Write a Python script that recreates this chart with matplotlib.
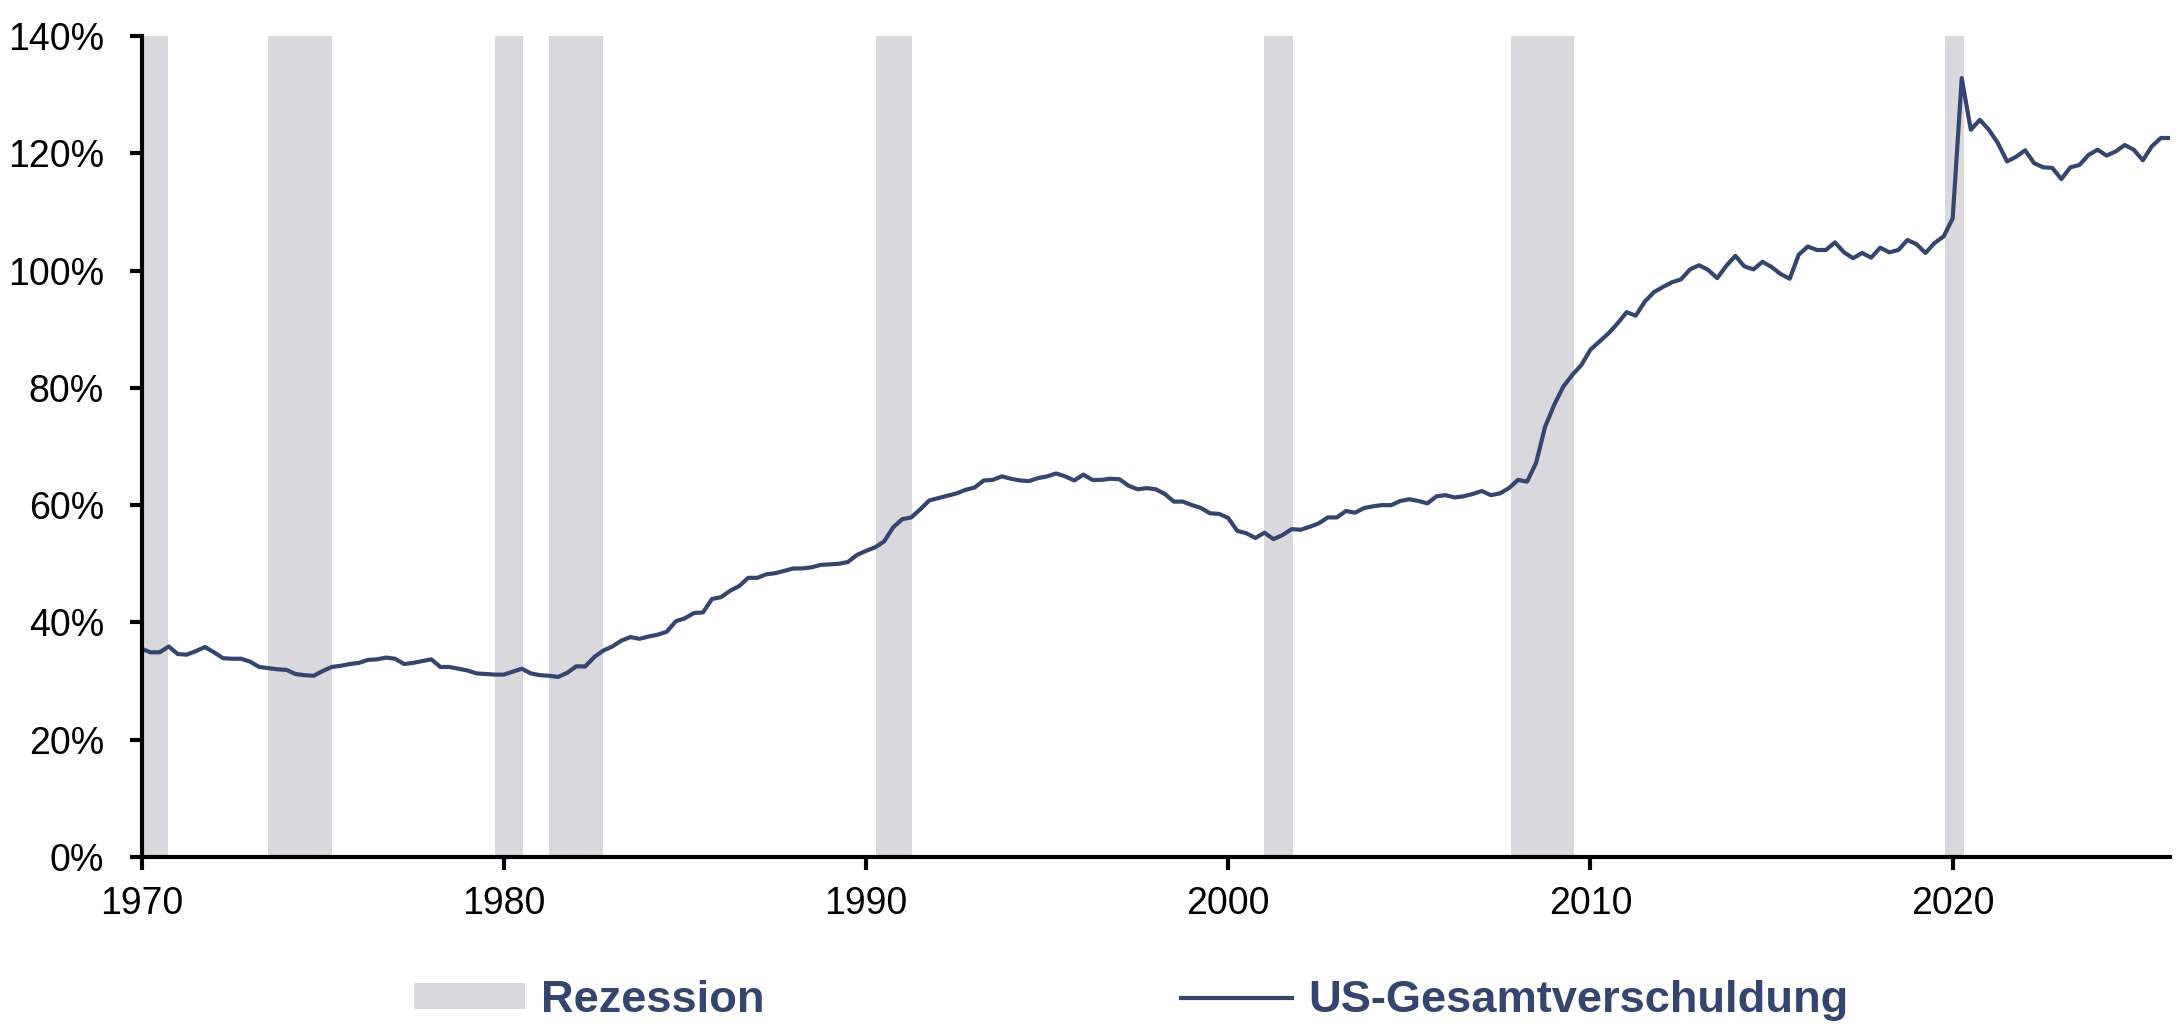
import numpy as np
import pandas as pd
import matplotlib
matplotlib.use("Agg")
from matplotlib import pyplot as plt
from matplotlib.ticker import FuncFormatter
from matplotlib.patches import Patch
from matplotlib.lines import Line2D

plt.rcParams['font.family'] = ['Liberation Sans', 'DejaVu Sans']

# US total debt in % of GDP, quarterly from 1970Q1
debt = [
    35.5, 34.9, 34.9, 35.9,   # 1970
    34.6, 34.5, 35.1, 35.8,   # 1971
    34.9, 33.9, 33.8, 33.8,   # 1972
    33.3, 32.4, 32.2, 32.0,   # 1973
    31.9, 31.2, 31.0, 30.9,   # 1974
    31.7, 32.4, 32.6, 32.9,   # 1975
    33.1, 33.6, 33.7, 34.0,   # 1976
    33.8, 32.9, 33.1, 33.4,   # 1977
    33.7, 32.4, 32.4, 32.1,   # 1978
    31.8, 31.3, 31.2, 31.1,   # 1979
    31.1, 31.6, 32.1, 31.3,   # 1980
    31.0, 30.9, 30.7, 31.4,   # 1981
    32.5, 32.5, 34.1, 35.2,   # 1982
    35.9, 36.9, 37.5, 37.2,   # 1983
    37.6, 37.9, 38.4, 40.2,   # 1984
    40.7, 41.6, 41.7, 44.0,   # 1985
    44.3, 45.4, 46.2, 47.6,   # 1986
    47.6, 48.2, 48.4, 48.8,   # 1987
    49.2, 49.2, 49.4, 49.8,   # 1988
    49.9, 50.0, 50.3, 51.5,   # 1989
    52.2, 52.8, 53.8, 56.2,   # 1990
    57.6, 57.9, 59.3, 60.8,   # 1991
    61.2, 61.6, 62.0, 62.6,   # 1992
    63.0, 64.2, 64.3, 64.9,   # 1993
    64.5, 64.2, 64.1, 64.6,   # 1994
    64.9, 65.4, 64.9, 64.2,   # 1995
    65.2, 64.3, 64.3, 64.5,   # 1996
    64.4, 63.3, 62.7, 62.9,   # 1997
    62.7, 61.9, 60.6, 60.6,   # 1998
    60.0, 59.5, 58.6, 58.5,   # 1999
    57.8, 55.6, 55.2, 54.4,   # 2000
    55.3, 54.2, 54.9, 55.9,   # 2001
    55.8, 56.3, 56.9, 57.9,   # 2002
    57.9, 59.0, 58.7, 59.5,   # 2003
    59.8, 60.0, 60.0, 60.7,   # 2004
    61.0, 60.7, 60.3, 61.5,   # 2005
    61.7, 61.3, 61.5, 61.9,   # 2006
    62.4, 61.7, 62.0, 62.9,   # 2007
    64.3, 64.0, 67.2, 73.4,   # 2008
    77.1, 80.2, 82.2, 83.9,   # 2009
    86.5, 87.9, 89.3, 91.0,   # 2010
    92.9, 92.3, 94.7, 96.3,   # 2011
    97.2, 98.0, 98.5, 100.2,  # 2012
    100.9, 100.1, 98.7, 100.8,  # 2013
    102.5, 100.7, 100.2, 101.5,  # 2014
    100.6, 99.4, 98.6, 102.7,  # 2015
    104.1, 103.5, 103.5, 104.8,  # 2016
    103.1, 102.1, 103.0, 102.2,  # 2017
    103.9, 103.1, 103.5, 105.2,  # 2018
    104.5, 103.0, 104.7, 105.8,  # 2019
    108.9, 132.8, 124.0, 125.7,  # 2020
    124.0, 121.7, 118.6, 119.4,  # 2021
    120.5, 118.3, 117.6, 117.5,  # 2022
    115.6, 117.6, 118.0, 119.7,  # 2023
    120.6, 119.6, 120.3, 121.4,  # 2024
    120.6, 118.8, 121.2, 122.6,  # 2025
    122.6,                       # 2026
]

# recession periods (start, end) in decimal years
rec_start = [1970.0, 1973.5, 1979.75, 1981.25, 1990.27, 2001.0, 2007.8, 2019.8]
rec_end = [1970.72, 1975.26, 1980.52, 1982.74, 1991.27, 2001.78, 2009.54, 2020.31]

year_ticks = [1970, 1980, 1990, 2000, 2010, 2020]
pct_ticks = [0, 20, 40, 60, 80, 100, 120, 140]

line_color = '#34466f'
rec_color = '#d9d8dc'

quarters = pd.period_range('1970Q1', periods=len(debt), freq='Q')
x = quarters.year + (quarters.quarter - 1) / 4.0

fig = plt.figure(figsize=(21.84, 10.36), dpi=100)
ax = fig.add_axes([0.0648, 0.1728, 0.9288, 0.7925])

for s, e in zip(rec_start, rec_end):
    ax.axvspan(s, e, color=rec_color, lw=0, zorder=1)

ax.plot(x, debt, color=line_color, lw=3.0, zorder=3)

ax.set_xlim(1970, 2026)
ax.set_ylim(0, 140)
ax.set_xticks(year_ticks)
ax.set_yticks(pct_ticks)
ax.yaxis.set_major_formatter(FuncFormatter(lambda v, p: f'{v:.0f}%'))

for side in ['top', 'right']:
    ax.spines[side].set_visible(False)
for side in ['left', 'bottom']:
    ax.spines[side].set_linewidth(3.0)
    ax.spines[side].set_zorder(4)
ax.tick_params(axis='both', length=9, width=3.0, labelsize=27, colors='black')
ax.tick_params(axis='y', pad=18)
ax.tick_params(axis='x', pad=12)

handles = [
    Patch(facecolor=rec_color, edgecolor='none', label='Rezession'),
    Line2D([], [], color=line_color, lw=3.0, label='US-Gesamtverschuldung'),
]
leg = fig.legend(handles=handles, loc='center', bbox_to_anchor=(0.518, 0.034),
                 ncol=2, frameon=False, handlelength=2.45, handleheight=0.5,
                 handletextpad=0.35, columnspacing=9.2, borderpad=0,
                 prop={'size': 32.6, 'weight': 'bold'})
for t in leg.get_texts():
    t.set_color(line_color)

fig.savefig('out.png', dpi=100)
